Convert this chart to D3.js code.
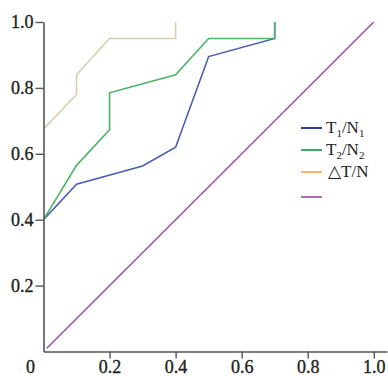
<!DOCTYPE html>
<html>
<head>
<meta charset="utf-8">
<script src="https://cdn.jsdelivr.net/npm/d3@7"></script>
<style>
  body { margin: 0; background: #fff; }
  text { font-family: "Liberation Serif", "DejaVu Serif", serif; fill: #222; }
</style>
</head>
<body>
<div id="chart"></div>
<script>
// curve points, x = 1 - specificity, y = sensitivity
const t1n1X = [0, 0.1, 0.3, 0.4, 0.5, 0.7, 0.7];
const t1n1Y = [0.40, 0.508, 0.563, 0.62, 0.895, 0.95, 1.0];
const t2n2X = [0, 0.1, 0.2, 0.2, 0.4, 0.5, 0.7, 0.7];
const t2n2Y = [0.40, 0.565, 0.673, 0.785, 0.84, 0.95, 0.95, 1.0];
const dtnX = [0, 0.1, 0.1, 0.2, 0.4, 0.4];
const dtnY = [0.675, 0.78, 0.84, 0.95, 0.95, 1.0];
const refX = [0.01, 1.0];
const refY = [0.01, 1.0];

const seriesNames = ['T1/N1', 'T2/N2', 'dT/N', 'ref'];
const lineColors = ['#4a5daf', '#4cb565', '#d8cfad', '#9a56aa'];
const legendColors = ['#2f3c9c', '#3fae6a', '#f7b566', '#ad6cc0'];
const xTicks = [0.2, 0.4, 0.6, 0.8, 1.0];
const yTicks = [0.2, 0.4, 0.6, 0.8, 1.0];

const width = 388, height = 376;

const svg = d3.select('#chart').append('svg')
    .attr('width', width)
    .attr('height', height);

const x = d3.scaleLinear().domain([0, 1.04]).range([43.5, 387]);
const y = d3.scaleLinear().domain([0, 1]).range([351.5, 22]);

const zip = (xs, ys) => xs.map((v, i) => [v, ys[i]]);
const series = [zip(t1n1X, t1n1Y), zip(t2n2X, t2n2Y), zip(dtnX, dtnY), zip(refX, refY)];

const line = d3.line().x(d => x(d[0])).y(d => y(d[1]));

// draw back to front so green sits on top of blue like the original
const order = [3, 2, 0, 1];
order.forEach(i => {
    svg.append('path')
        .datum(series[i])
        .attr('fill', 'none')
        .attr('stroke', lineColors[i])
        .attr('stroke-width', 1.6)
        .attr('d', line);
});

// axes
const xAxis = svg.append('g')
    .attr('transform', 'translate(0,' + y(0) + ')')
    .call(d3.axisBottom(x).tickValues(xTicks).tickFormat(d3.format('.1f')).tickSize(7).tickSizeOuter(0).tickPadding(2));

const yAxis = svg.append('g')
    .attr('transform', 'translate(' + x(0) + ',0)')
    .call(d3.axisLeft(y).tickValues(yTicks).tickFormat(d3.format('.1f')).tickSize(8).tickSizeOuter(0).tickPadding(2));

[xAxis, yAxis].forEach(g => {
    g.select('.domain').attr('stroke', '#555').attr('stroke-width', 1.6);
    g.selectAll('.tick line').attr('stroke', '#555').attr('stroke-width', 1.4);
    g.selectAll('.tick text')
        .attr('font-size', 18)
        .attr('font-family', '"Liberation Serif", serif')
        .attr('fill', '#222')
        .attr('stroke', '#222')
        .attr('stroke-width', 0.35);
});

svg.append('text')
    .attr('x', x(0) - 13)
    .attr('y', y(0) + 9)
    .attr('dy', '0.71em')
    .attr('text-anchor', 'middle')
    .attr('font-size', 18)
    .attr('stroke', '#222')
    .attr('stroke-width', 0.35)
    .text('0');

// legend
const legend = svg.append('g').attr('transform', 'translate(301,128)');
const legendLabels = [
    [['T', null], ['1', 'sub'], ['/N', null], ['1', 'sub']],
    [['T', null], ['2', 'sub'], ['/N', null], ['2', 'sub']],
    [['\u25B3T/N', null]],
    []
];
const rowY = [0, 22, 44, 69];
legendLabels.forEach((parts, i) => {
    const row = legend.append('g').attr('transform', 'translate(0,' + rowY[i] + ')');
    row.append('line')
        .attr('x1', 0).attr('x2', 21)
        .attr('stroke', legendColors[i])
        .attr('stroke-width', 2);
    const t = row.append('text')
        .attr('x', i === 2 ? 27 : 25)
        .attr('y', 5)
        .attr('font-size', 17);
    parts.forEach(p => {
        const ts = t.append('tspan').text(p[0]);
        if (p[1] === 'sub') ts.attr('font-size', 11).attr('dy', 4);
        else if (t.selectAll('tspan').size() > 1) ts.attr('dy', -4);
    });
});
</script>
</body>
</html>
